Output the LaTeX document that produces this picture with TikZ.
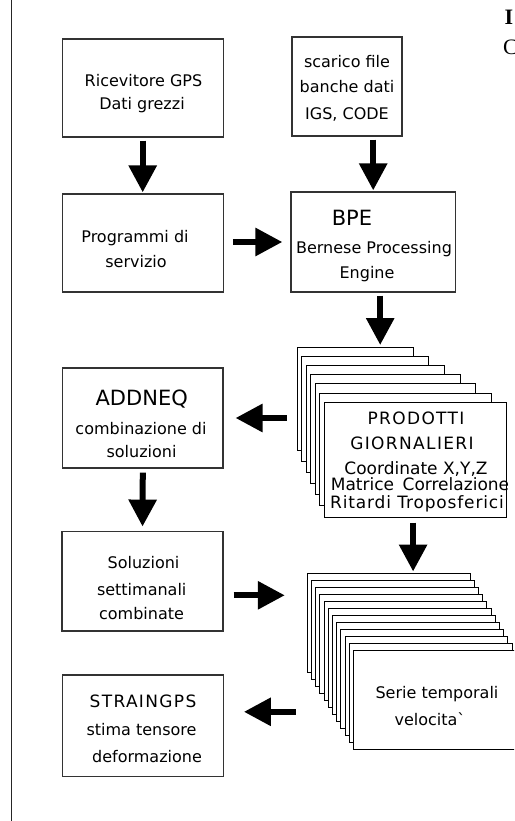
\documentclass[tikz,border=0pt]{standalone}
\usepackage{fontspec}
\newfontfamily\diag{DejaVu Sans}[Ligatures=TeXOff]
\newfontfamily\serifx{Liberation Serif}
\usetikzlibrary{arrows.meta,calc}
\begin{document}
\begin{tikzpicture}[x=1pt,y=-1pt,
  box/.style={draw=black!80, line width=1.2pt, fill=white, inner sep=0pt},
  page/.style={draw=black, line width=1pt, fill=white, inner sep=0pt},
  txt/.style={anchor=base, inner sep=0pt, font=\diag\fontsize{16}{20}\selectfont},
  bigtxt/.style={anchor=base, inner sep=0pt, font=\diag\fontsize{21}{24}\selectfont},
  captxt/.style={anchor=base, inner sep=0pt, font=\diag\fontsize{17}{20}\selectfont\addfontfeature{LetterSpace=8}},
  bigarrow/.style={line width=6pt, -{Triangle[length=27pt,width=27pt]}},
]
\useasboundingbox (0,0) rectangle (514,821);
\clip (0,0) rectangle (514,821);

% page rule at the left
\coordinate (ruleTop) at (11.7,0);
\coordinate (ruleBot) at (11.7,821);
\draw[line width=1.3pt, black!85] (ruleTop) -- (ruleBot);

% cut-off text at top right
\node[anchor=base west, inner sep=0pt, font=\serifx\bfseries\fontsize{22}{22}\selectfont] (frI) at (504.5,25) {I};
\node[anchor=base west, inner sep=0pt, font=\serifx\fontsize{22}{22}\selectfont] (frC) at (503,55) {C};

% boxes
\node[box, minimum width=161pt, minimum height=98pt] (rcv) at (142.7,88) {};
\node[box, minimum width=110pt, minimum height=99pt] (scar) at (347,86.5) {};
\node[box, minimum width=161pt, minimum height=98pt] (prog) at (142.7,243) {};
\node[box, minimum width=164.5pt, minimum height=100pt] (bpe) at (373.2,242) {};
\node[box, minimum width=160.3pt, minimum height=100pt] (addneq) at (142.8,418) {};
\node[box, minimum width=161pt, minimum height=99.3pt] (sol) at (142.5,581.3) {};
\node[box, minimum width=160.6pt, minimum height=101.7pt] (strain) at (143,725.8) {};

% box texts
\node[txt] (rcvA) at (143.5,87) {Ricevitore GPS};
\node[txt] (rcvB) at (142,110) {Dati grezzi};
\node[txt] (scarA) at (347,68) {scarico file};
\node[txt] (scarB) at (347,93) {banche dati};
\node[txt] (scarC) at (347,120) {IGS, CODE};
\node[txt] (progA) at (135,242) {Programmi di};
\node[txt] (progB) at (136,267) {servizio};
\node[bigtxt] (bpeA) at (352,225) {BPE};
\node[txt] (bpeB) at (374,253) {Bernese Processing};
\node[txt] (bpeC) at (367,278) {Engine};
\node[bigtxt] (addA) at (141.7,405) {ADDNEQ};
\node[txt] (addB) at (141,434) {combinazione di};
\node[txt] (addC) at (141.5,457) {soluzioni};
\node[txt] (solA) at (143.5,568) {Soluzioni};
\node[txt] (solB) at (141.7,595) {settimanali};
\node[txt] (solC) at (141.5,619) {combinate};
\node[captxt] (strA) at (143,707) {STRAINGPS};
\node[txt] (strB) at (141.5,735) {stima tensore};
\node[txt] (strC) at (147,762) {deformazione};

% first stack of pages (daily products)
\foreach \i in {0,...,6}{
  \pgfmathsetmacro\pl{297.3+4.5*\i}
  \pgfmathsetmacro\pt{347+9.2*\i}
  \pgfmathsetmacro\pr{413.3+15.6*\i}
  \pgfmathsetmacro\pb{450+11.17*\i}
  \pgfmathsetmacro\pw{\pr-\pl}
  \pgfmathsetmacro\ph{\pb-\pt}
  \node[page, minimum width=\pw pt, minimum height=\ph pt] (s1p\i) at ({(\pl+\pr)/2},{(\pt+\pb)/2}) {};
}
\node[captxt] (prA) at (416,424) {PRODOTTI};
\node[captxt] (prB) at (412,449) {GIORNALIERI};
\node[anchor=base, inner sep=0pt, font=\diag\fontsize{17}{20}\selectfont] (prC) at (416,474) {Coordinate X,Y,Z};
\node[anchor=base, inner sep=0pt, font=\diag\fontsize{17}{20}\selectfont] (prD) at (420,490) {Matrice\hspace{0.5em}Correlazione};
\node[anchor=base, inner sep=0pt, font=\diag\fontsize{17}{20}\selectfont\addfontfeature{LetterSpace=5}] (prE) at (417,508) {Ritardi Troposferici};

% second stack of pages (time series)
\foreach \i in {0,...,11}{
  \pgfmathsetmacro\pl{307.3+4.2*\i}
  \pgfmathsetmacro\pt{573.3+7*\i}
  \pgfmathsetmacro\pr{470+4.2*\i}
  \pgfmathsetmacro\pb{672.7+7*\i}
  \pgfmathsetmacro\pw{\pr-\pl}
  \pgfmathsetmacro\ph{\pb-\pt}
  \node[page, minimum width=\pw pt, minimum height=\ph pt] (s2p\i) at ({(\pl+\pr)/2},{(\pt+\pb)/2}) {};
}
\node[txt] (seA) at (437,698) {Serie temporali};
\node[txt] (seB) at (430,725) {velocita`};

% connectors
\draw[bigarrow, shorten <=3pt, shorten >=1pt] (rcv.south) -- (prog.north);
\draw[bigarrow, shorten <=3pt, shorten >=1pt] (scar.south -| bpe.north) -- (bpe.north);
\draw[bigarrow, shorten <=9pt, shorten >=8pt] (prog.east |- bpe.west) -- (bpe.west);
\coordinate (bpeOut) at ($(bpe.south)+(7,0)$);
\draw[bigarrow, shorten <=3pt, shorten >=1.5pt] (bpeOut) -- (bpeOut |- s1p0.north);
\draw[bigarrow, shorten <=10pt, shorten >=12pt] (s1p0.west |- addneq.east) -- (addneq.east);
\draw[bigarrow, shorten <=4pt, shorten >=4.5pt] (addneq.south) -- (sol.north);
\coordinate (s1Out) at ($(s1p6.south)+(-2.5,0)$);
\draw[bigarrow, shorten <=5pt, shorten >=1.3pt] (s1Out) -- (s1Out |- s2p0.north);
\coordinate (solOut) at ($(sol.east)+(0,14)$);
\draw[bigarrow, shorten <=10pt, shorten >=22pt] (solOut) -- (solOut -| s2p0.west);
\coordinate (strIn) at ($(strain.east)+(0,-14)$);
\draw[bigarrow, shorten <=11pt, shorten >=20pt] (s2p0.west |- strIn) -- (strIn);
\end{tikzpicture}
\end{document}
